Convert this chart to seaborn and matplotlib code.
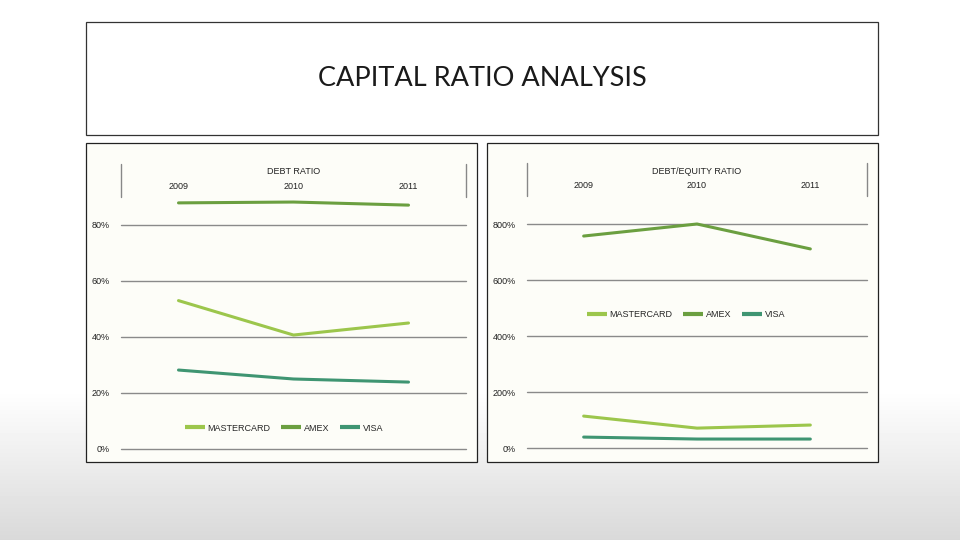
import numpy as np
import pandas as pd
import seaborn as sns
import matplotlib.pyplot as plt
from matplotlib.patches import Rectangle
from matplotlib.ticker import PercentFormatter

# data
years = ["2009", "2010", "2011"]
companies = ["MASTERCARD", "AMEX", "VISA"]
debt_ratio = {
    "MASTERCARD": [0.53, 0.407, 0.45],
    "AMEX": [0.879, 0.882, 0.871],
    "VISA": [0.282, 0.25, 0.239],
}
debt_equity = {
    "MASTERCARD": [1.14, 0.71, 0.82],
    "AMEX": [7.57, 8.00, 7.11],
    "VISA": [0.39, 0.32, 0.32],
}
colors = {"MASTERCARD": "#9cc64c", "AMEX": "#6b9f40", "VISA": "#3f9572"}


def long_form(d):
    rows = []
    for c in companies:
        for y, v in zip(years, d[c]):
            rows.append({"year": y, "company": c, "value": v})
    return pd.DataFrame(rows)


sns.set_style("white")
plt.rcParams["font.family"] = ["Liberation Sans", "DejaVu Sans"]

fig = plt.figure(figsize=(9.6, 5.4), dpi=100)

# background gradient
bg = fig.add_axes([0, 0, 1, 1], zorder=-10)
rows_px = np.arange(540)
shade = np.where(rows_px < 390, 1.0, 1.0 - (rows_px - 390) / 150 * 0.15)
bg.imshow(shade[:, None], cmap="gray", vmin=0, vmax=1, aspect="auto",
          extent=[0, 1, 0, 1])
bg.axis("off")

# title box
fig.patches.append(Rectangle((86 / 960, 1 - 135 / 540), 792 / 960, 113 / 540,
                             transform=fig.transFigure, fill=True, zorder=-5,
                             facecolor="white", edgecolor="#333333", lw=0.9))
fig.text(482 / 960, 1 - 79 / 540, "CAPITAL RATIO ANALYSIS", ha="center",
         va="center", fontsize=19.5, color="#1a1a1a", family=["Lato", "DejaVu Sans"])

# panel frames
for x0 in (86, 487):
    fig.patches.append(Rectangle((x0 / 960, 1 - 462 / 540), 391 / 960, 319 / 540,
                                 transform=fig.transFigure, facecolor="#fdfdf8",
                                 edgecolor="#222222", lw=0.9, zorder=-5))


def panel(rect, data, ylim, yticks, title, legend_anchor):
    ax = fig.add_axes(rect)
    ax.set_facecolor("none")
    sns.lineplot(data=long_form(data), x="year", y="value", hue="company",
                 palette=colors, linewidth=2.2, ax=ax, sort=False)
    ax.set_xlim(-0.5, 2.5)
    ax.set_ylim(*ylim)
    ax.set_yticks(yticks)
    ax.yaxis.set_major_formatter(PercentFormatter(1.0, decimals=0))
    ax.yaxis.grid(True, color="#8a8a8a", lw=1)
    for gl in ax.get_ygridlines():
        gl.set_clip_on(False)
    ax.set_axisbelow(True)
    ax.xaxis.tick_top()
    ax.tick_params(axis="x", length=0, pad=4, labelsize=6.5, colors="#222222")
    ax.tick_params(axis="y", length=0, pad=8, labelsize=6.5, colors="#222222")
    ax.set_xlabel("")
    ax.set_ylabel("")
    for s in ax.spines.values():
        s.set_visible(False)
    for xe in (-0.5, 2.5):
        ax.axvline(xe, ymin=1.0, ymax=1.13, color="#888888", lw=1, clip_on=False)
    ax.text(0.5, 1 + 25 / 252, title, transform=ax.transAxes, ha="center",
            va="center", fontsize=6.5, color="#222222")
    leg = ax.legend(title=None, frameon=False, ncol=3, fontsize=6.5,
                    loc="center", bbox_to_anchor=legend_anchor, handlelength=2.2,
                    columnspacing=1.2, handletextpad=0.3)
    for ln in leg.get_lines():
        ln.set_linewidth(3)
        ln.set_solid_capstyle("butt")
    return ax


panel([121 / 960, 1 - 449 / 540, 345 / 960, 252 / 540], debt_ratio,
      (0, 0.9), [0, 0.2, 0.4, 0.6, 0.8], "DEBT RATIO", (0.472, 0.083))
panel([527 / 960, 1 - 448 / 540, 340 / 960, 252 / 540], debt_equity,
      (0, 9), [0, 2, 4, 6, 8], "DEBT/EQUITY RATIO", (0.468, 0.53))

fig.savefig("out.png", dpi=100)
